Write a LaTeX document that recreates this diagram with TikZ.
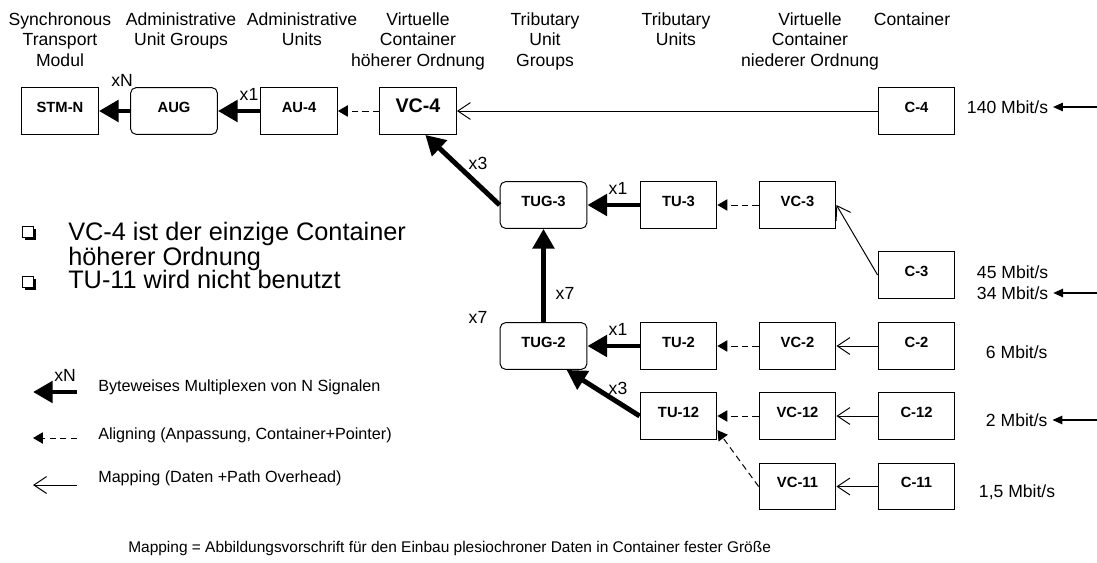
\documentclass[tikz,border=0pt]{standalone}
\usepackage{fontspec}
\setmainfont{Liberation Sans}
\usepackage{tikz}
\usetikzlibrary{arrows.meta, shapes, shadows}

\begin{document}
\begin{tikzpicture}[x = 0.025cm, y = -0.025cm]
			\tikzstyle{every node} = [font = \fontsize{12.5}{14.9}\selectfont]
			\tikzstyle{head} = [align = center, anchor = north, inner sep = 0pt]
			\tikzstyle{box} = [draw, line width = 0.7pt, minimum width = 1.92cm, minimum height = 1.17cm, inner sep = 0pt,
				font = \fontsize{10.5}{12}\selectfont\bfseries, text height = 0.72em, text depth = 0.57em]
			\tikzstyle{group} = [box, rounded corners = 4pt, minimum width = 2.17cm]
			\tikzstyle{mux} = [draw, line width = 3.5pt, -{Triangle[length = 14pt, width = 15pt]}]
			\tikzstyle{aligning} = [draw, line width = 0.7pt, dash pattern = on 4.5pt off 3pt, -{Triangle[length = 7pt, width = 8pt]}]
			\tikzstyle{mapping} = [draw, line width = 0.7pt, -{Straight Barb[length = 9pt, width = 12pt]}]
			\tikzstyle{input} = [draw, line width = 1pt, -{Triangle[length = 7pt, width = 6pt]}]
			\tikzstyle{rate} = [anchor = west]
			\tikzstyle{legend} = [anchor = west, inner sep = 0pt, font = \fontsize{11.5}{14}\selectfont]
			\tikzstyle{bullet} = [draw, fill = white, line width = 0.6pt, minimum size = 0.27cm, inner sep = 0pt,
				drop shadow = {shadow xshift = 0.06cm, shadow yshift = -0.06cm, opacity = 1, fill = black}]
			\useasboundingbox (0,0) rectangle (1097,563);

				\node[head] (hstm) at (60,12) {Synchronous\\Transport\\Modul};
				\node[head] (haug) at (181,12) {Administrative\\Unit Groups};
				\node[head] (hau) at (302,12) {Administrative\\Units};
				\node[head] (hvc4) at (418,12) {Virtuelle\\Container\\höherer Ordnung};
				\node[head] (htug) at (545,12) {Tributary\\Unit\\Groups};
				\node[head] (htu) at (676,12) {Tributary\\Units};
				\node[head] (hvc) at (810,12) {Virtuelle\\Container\\niederer Ordnung};
				\node[head] (hc) at (912,12) {Container};

				\node[box] (stm) at (60,111) {STM-N};
				\node[group] (aug) at (174,111) {AUG};
				\node[box] (au4) at (299,111) {AU-4};
				\node[box, font = \fontsize{14}{16}\selectfont\bfseries] (vc4) at (418,111) {VC-4};
				\node[box] (c4) at (916.5,111) {C-4};
				\node[group] (tug3) at (543.5,205) {TUG-3};
				\node[box] (tu3) at (678.5,205) {TU-3};
				\node[box] (vc3) at (797.5,205) {VC-3};
				\node[box] (c3) at (916.5,275) {C-3};
				\node[group] (tug2) at (543.5,346) {TUG-2};
				\node[box] (tu2) at (678.5,346) {TU-2};
				\node[box] (vc2) at (797.5,346) {VC-2};
				\node[box] (c2) at (916.5,346) {C-2};
				\node[box] (tu12) at (678.5,416) {TU-12};
				\node[box] (vc12) at (797.5,416) {VC-12};
				\node[box] (c12) at (916.5,416) {C-12};
				\node[box] (vc11) at (797.5,486.5) {VC-11};
				\node[box] (c11) at (916.5,486.5) {C-11};

				\path[mux] (aug) -- (stm);
				\path[mux] (au4) -- (aug);
				\path[aligning] (vc4) -- (au4);
				\path[mapping] (c4) -- (vc4);
				\path[mux] (tug3.west) -- (vc4.-73);
				\path[mux] (tu3) -- (tug3);
				\path[aligning] (vc3) -- (tu3);
				\path[mapping] (c3.west) -- (vc3.east);
				\path[mux] (tug2) -- (tug3);
				\path[mux] (tu2) -- (tug2);
				\path[aligning] (vc2) -- (tu2);
				\path[mapping] (c2) -- (vc2);
				\path[mux] (tu12.west) -- (tug2.-46);
				\path[aligning] (vc12) -- (tu12);
				\path[aligning] (vc11.west) -- (tu12.-20);
				\path[mapping] (c12) -- (vc12);
				\path[mapping] (c11) -- (vc11);

				\node (xn) at (122,80) {xN};
				\node (xaug) at (249,94) {x1};
				\node (xvc4) at (478,163) {x3};
				\node (xtu3) at (618,188) {x1};
				\node (xtug2) at (565,293) {x7};
				\node (xtu12a) at (478,317) {x7};
				\node (xtu2) at (618,329) {x1};
				\node (xtu12) at (618,388) {x3};

				\node[rate] (r4) at (962,107) {140 Mbit/s};
				\node[rate] (r3a) at (972,272) {45 Mbit/s};
				\node[rate] (r3b) at (972,293) {34 Mbit/s};
				\node[rate] (r2) at (981,352) {6 Mbit/s};
				\node[rate] (r12) at (981,420) {2 Mbit/s};
				\node[rate] (r11) at (974,492) {1,5 Mbit/s};
				\coordinate (in4) at (1097,107);
				\coordinate (in3) at (1097,293);
				\coordinate (in12) at (1097,420);
				\path[input] (in4) -- (r4.east);
				\path[input] (in3) -- (r3b.east);
				\path[input] (in12) -- (r12.east);

				\node[bullet] (b1) at (28,232) {};
				\node[bullet] (b2) at (28,282) {};
				\node[anchor = north west, inner sep = 0pt, align = left, font = \fontsize{18}{14.2}\selectfont] (t1) at (68,222)
					{VC-4 ist der einzige Container\\höherer Ordnung};
				\node[anchor = north west, inner sep = 0pt, font = \fontsize{18}{14.2}\selectfont] (t2) at (68,270)
					{TU-11 wird nicht benutzt};

				\coordinate (lm1) at (77,392);
				\coordinate (lm0) at (33,392);
				\coordinate (la1) at (77,438);
				\coordinate (la0) at (33,438);
				\coordinate (lp1) at (77,485);
				\coordinate (lp0) at (33,485);
				\path[mux] (lm1) -- (lm0);
				\path[aligning] (la1) -- (la0);
				\path[mapping] (lp1) -- (lp0);
				\node (lxn) at (65,375) {xN};
				\node[legend] (lt1) at (98,387) {Byteweises Multiplexen von N Signalen};
				\node[legend] (lt2) at (98,435) {Aligning (Anpassung, Container+Pointer)};
				\node[legend] (lt3) at (98,478) {Mapping (Daten +Path Overhead)};

				\node[legend, font = \fontsize{11}{13}\selectfont] (note) at (128,548) {Mapping = Abbildungsvorschrift für den Einbau plesiochroner Daten in Container fester Größe};
\end{tikzpicture}
\end{document}
